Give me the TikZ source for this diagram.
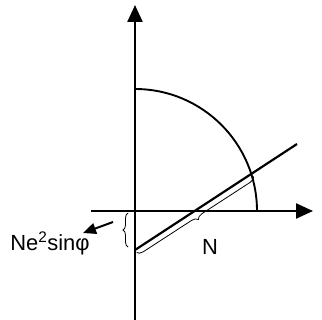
\documentclass[tikz,border=0pt]{standalone}
\usepackage{fontspec}
\setmainfont{Liberation Sans}
\usetikzlibrary{arrows.meta,decorations.pathreplacing}
\begin{document}
\begin{tikzpicture}[x=1bp, y=1bp, every node/.style={font=\fontsize{22}{26}\selectfont},
  axis/.style={line width=2.4pt, -{Triangle[length=17bp,width=15bp]}},
  thinbrace/.style={decorate, line width=0.8pt}]
\useasboundingbox (0,0) rectangle (322,320);
% Origin and points
\coordinate (O) at (135,109);
\coordinate (A) at (135,70);
\coordinate (B) at (297,176);
\coordinate (P) at (252,146);
% Axes
\draw[axis] (91,109) -- (313,109);
\draw[axis] (135,0) -- (135,315);
% Quarter arc
\draw[line width=1.9pt] (257,109) arc (0:90:122);
% Slanted line
\draw[line width=2.2pt] (A) -- (B);
% Brace along the line
\draw[thinbrace, decoration={brace, mirror, amplitude=6bp, raise=3bp}] (A) -- (P);
\node[anchor=base] (N) at (210,66) {N};
% Small brace and label
\coordinate (C1) at (128,73);
\coordinate (C2) at (128,107);
\draw[thinbrace, decoration={brace, amplitude=5bp}] (C1) -- (C2);
\node[anchor=base] (lab) at (50,70) {Ne\textsuperscript{2}sin\symbol{"03C6}};
\coordinate (t) at (113,98);
\coordinate (h) at (83,87);
\draw[line width=2pt, -{Triangle[length=13bp,width=11bp]}] (t) -- (h);
\end{tikzpicture}
\end{document}
